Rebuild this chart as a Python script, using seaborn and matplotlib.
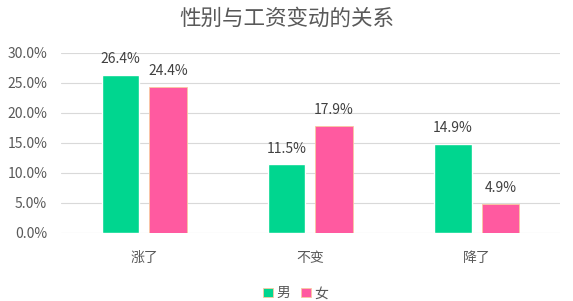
import matplotlib
matplotlib.use("Agg")
import matplotlib.pyplot as plt
import seaborn as sns
import pandas as pd
from matplotlib.ticker import FuncFormatter, MultipleLocator

categories = ["涨了", "不变", "降了"]
series_names = ["男", "女"]
male_values = [26.4, 11.5, 14.9]
female_values = [24.4, 17.9, 4.9]
colors = ["#00D68F", "#FF5AA0"]
title = "性别与工资变动的关系"

sns.set_theme(style="white")
plt.rcParams["font.family"] = ["Noto Sans CJK SC", "DejaVu Sans"]

df = pd.DataFrame({
    "类别": categories * 2,
    "性别": [series_names[0]] * 3 + [series_names[1]] * 3,
    "值": male_values + female_values,
})

fig = plt.figure(figsize=(5.73, 3.01), dpi=100)
ax = fig.add_axes([0.1065, 0.226, 0.8705, 0.598])
sns.barplot(data=df, x="类别", y="值", hue="性别", order=categories,
            hue_order=series_names, palette=colors, width=0.57, gap=0.21,
            saturation=1, ax=ax, legend=True)

for i, p in enumerate(ax.patches):
    if i >= 3:
        p.set_edgecolor("#F8C9A0")
        p.set_linewidth(0.6)

for cont in ax.containers:
    ax.bar_label(cont, labels=[f"{v:.1f}%" for v in cont.datavalues],
                 padding=6, fontsize=10, color="#404040")

ax.set_ylim(0, 30)
ax.set_xlim(-0.5, 2.5)
ax.yaxis.set_major_locator(MultipleLocator(5))
ax.yaxis.set_major_formatter(FuncFormatter(lambda v, _: f"{v:.1f}%"))
ax.grid(axis="y", color="#D9D9D9", linewidth=0.8)
ax.set_axisbelow(True)
for s in ax.spines.values():
    s.set_visible(False)
ax.set_xlabel("")
ax.set_ylabel("")
ax.tick_params(axis="both", length=0, labelsize=10, labelcolor="#595959")
ax.tick_params(axis="x", pad=13)
ax.tick_params(axis="y", pad=10)

fig.text(0.5, 1 - 19 / 301, title, fontsize=15.5, color="#595959",
         ha="center", va="center")

leg = ax.legend(loc="center", bbox_to_anchor=(0.47, -0.335), ncol=2, frameon=False,
                fontsize=10, handlelength=0.7, handleheight=0.7,
                handletextpad=0.25, columnspacing=0.8)
for t in leg.get_texts():
    t.set_color("#595959")

fig.savefig("out.png", dpi=100)
